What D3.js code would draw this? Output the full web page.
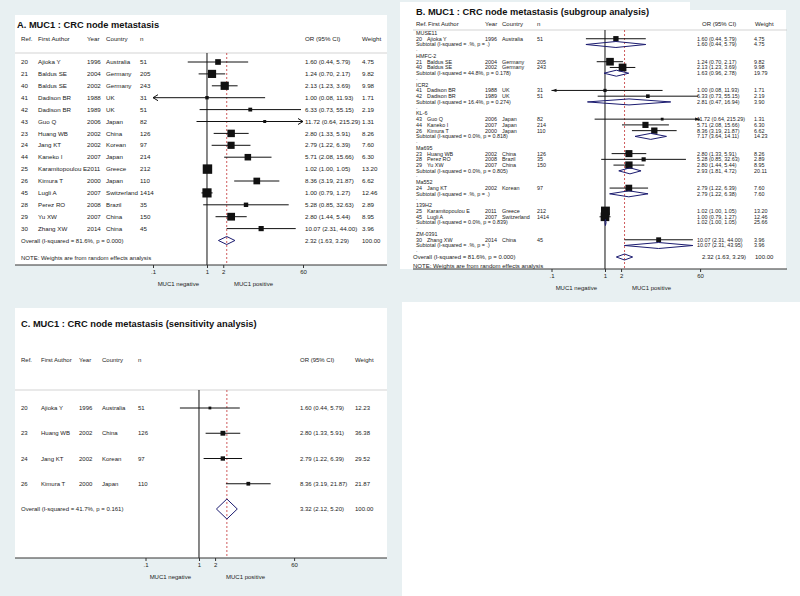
<!DOCTYPE html>
<html>
<head>
<meta charset="utf-8">
<script src="https://cdn.jsdelivr.net/npm/d3@7"></script>
<style>
  body { margin: 0; background: #fff; }
  svg { display: block; font-family: "Liberation Sans", Arial, sans-serif; }
</style>
</head>
<body>
<svg id="chart" width="800" height="596"></svg>
<script>
// study table (panel A order)
const refs = [20, 21, 40, 41, 42, 43, 23, 24, 44, 25, 26, 45, 28, 29, 30];
const authors = ["Ajioka Y", "Baldus SE", "Baldus SE", "Dadison BR", "Dadison BR", "Guo Q", "Huang WB", "Jang KT",
  "Kaneko I", "Karamitopoulou E", "Kimura T", "Lugli A", "Perez RO", "Yu XW", "Zhang XW"];
const years = [1996, 2004, 2002, 1988, 1989, 2006, 2002, 2002, 2007, 2011, 2000, 2007, 2008, 2007, 2014];
const countries = ["Australia", "Germany", "Germany", "UK", "UK", "Japan", "China", "Korean", "Japan", "Greece",
  "Japan", "Switzerland", "Brazil", "China", "China"];
const sizes = [51, 205, 243, 31, 51, 82, 126, 97, 214, 212, 110, 1414, 35, 150, 45];
const ors = [1.60, 1.24, 2.13, 1.00, 6.33, 11.72, 2.80, 2.79, 5.71, 1.02, 8.36, 1.00, 5.28, 2.80, 10.07];
const lows = [0.44, 0.70, 1.23, 0.08, 0.73, 0.64, 1.33, 1.22, 2.08, 1.00, 3.19, 0.79, 0.85, 1.44, 2.31];
const highs = [5.79, 2.17, 3.69, 11.93, 55.15, 215.29, 5.91, 6.39, 15.66, 1.05, 21.87, 1.27, 32.63, 5.44, 44.00];
const weights = [4.75, 9.82, 9.98, 1.71, 2.19, 1.31, 8.26, 7.60, 6.30, 13.20, 6.62, 12.46, 2.89, 8.95, 3.96];
const overallAll = [2.32, 1.63, 3.29];
const hetAll = "81.6%, p = 0.000";

// subgroups (panel B)
const groupNames = ["MUSE11", "HMFC-2", "ICR2", "KL-6", "Ma695", "Ma552", "139H2", "ZM-0391"];
const groupRefs = [[20], [21, 40], [41, 42], [43, 44, 26], [23, 28, 29], [24], [25, 45], [30]];
const groupHet = [".%, p = .", "44.8%, p = 0.178", "16.4%, p = 0.274", "0.0%, p = 0.818", "0.0%, p = 0.805",
  ".%, p = .", "0.0%, p = 0.839", ".%, p = ."];
const groupOR = [1.60, 1.63, 2.81, 7.17, 2.93, 2.79, 1.02, 10.07];
const groupLow = [0.44, 0.96, 0.47, 3.64, 1.81, 1.22, 1.00, 2.31];
const groupHigh = [5.79, 2.78, 16.94, 14.11, 4.72, 6.38, 1.05, 43.95];
const groupWeight = [4.75, 19.79, 3.90, 14.23, 20.11, 7.60, 25.66, 3.96];

// sensitivity (panel C)
const sensRefs = [20, 23, 24, 26];
const sensWeights = [12.23, 36.38, 29.52, 21.87];
const overallSens = [3.32, 2.12, 5.20];
const hetSens = "41.7%, p = 0.161";

const tickValues = [0.1, 1, 2, 60];
const tickLabels = [".1", "1", "2", "60"];

const svg = d3.select("#chart");
const fmt = d3.format(".2f");
const ink = "#222";
const navy = "#1c1c70";

// backgrounds
svg.append("rect").attr("width", 800).attr("height", 596).attr("fill", "#e8f0f2");
svg.append("rect").attr("x", 402).attr("y", 302).attr("width", 398).attr("height", 294).attr("fill", "#fff");
svg.append("rect").attr("x", 15).attr("y", 15).attr("width", 372).attr("height", 250).attr("fill", "#fff");
svg.append("rect").attr("x", 400).attr("y", 10).attr("width", 386).attr("height", 259).attr("fill", "#fff");
svg.append("rect").attr("x", 400).attr("y", 2).attr("width", 290).attr("height", 9).attr("fill", "#fff");
svg.append("rect").attr("x", 15).attr("y", 308).attr("width", 372).attr("height", 250).attr("fill", "#fff");

function drawPanel(p) {
  const g = svg.append("g");
  const c = p.cols;
  const txt = (x, y, s, size, anchor) =>
    g.append("text").attr("x", x).attr("y", y).attr("dy", "0.35em")
      .attr("font-size", size).attr("fill", ink)
      .attr("text-anchor", anchor || "start").text(s);

  g.append("text").attr("x", p.titleX).attr("y", p.titleY).attr("dy", "0.35em")
    .attr("font-size", 9.3).attr("font-weight", "bold").attr("fill", "#111").text(p.title);

  [["Ref.", c.ref], ["First Author", c.authorHead], ["Year", c.year], ["Country", c.country],
   ["n", c.n], ["OR (95% CI)", c.orHead], ["Weight", c.wHead]]
    .forEach(d => txt(d[1], p.headerY, d[0], p.headFont));

  g.append("line").attr("x1", p.left).attr("x2", p.right).attr("y1", p.sepY).attr("y2", p.sepY)
    .attr("stroke", "#c8c8c8").attr("stroke-width", 0.8);

  // null line and overall line
  g.append("line").attr("x1", p.x(1)).attr("x2", p.x(1)).attr("y1", p.sepY).attr("y2", p.axisY)
    .attr("stroke", "#111").attr("stroke-width", 1);
  g.append("line").attr("x1", p.x(p.overall[0])).attr("x2", p.x(p.overall[0]))
    .attr("y1", p.sepY).attr("y2", p.axisY)
    .attr("stroke", "#c8474a").attr("stroke-width", 0.9).attr("stroke-dasharray", "2,2");

  const [dMin, dMax] = p.x.domain();
  const diamond = (y, o, l, h, hh) => {
    const pts = [[p.x(l), y], [p.x(o), y - hh], [p.x(h), y], [p.x(o), y + hh]];
    g.append("path").attr("d", "M" + pts.join("L") + "Z")
      .attr("fill", "none").attr("stroke", navy).attr("stroke-width", 1);
  };

  p.rows.forEach(r => {
    const y = p.y(r.pos);
    if (r.type === "study") {
      const i = r.i;
      txt(c.ref, y, refs[i], p.font);
      txt(c.author, y, authors[i], p.font);
      txt(c.year, y, years[i], p.font);
      txt(c.country, y, countries[i], p.font);
      txt(c.n, y, sizes[i], p.font);
      txt(c.or, y, `${fmt(ors[i])} (${fmt(lows[i])}, ${fmt(highs[i])})`, p.font);
      txt(c.w, y, fmt(r.w), p.font);
      const x1 = p.x(Math.max(lows[i], dMin));
      const x2 = p.x(Math.min(highs[i], dMax));
      g.append("line").attr("x1", x1).attr("x2", x2).attr("y1", y).attr("y2", y)
        .attr("stroke", "#111").attr("stroke-width", 1);
      if (lows[i] < dMin) arrow(g, x1, y, -1, p.arrow);
      if (highs[i] > dMax) arrow(g, x2, y, 1, p.arrow);
      const s = p.boxK * Math.sqrt(r.w);
      g.append("rect").attr("x", p.x(ors[i]) - s / 2).attr("y", y - s / 2)
        .attr("width", s).attr("height", s).attr("fill", "#111");
    } else if (r.type === "group") {
      txt(c.ref, y, r.label, p.font);
    } else if (r.type === "blank") {
      txt(c.ref, y - 1, ".", p.font);
    } else if (r.type === "sub") {
      txt(c.ref, y, `Subtotal  (I-squared = ${r.het})`, p.font);
      txt(c.or, y, `${fmt(r.o)} (${fmt(r.l)}, ${fmt(r.h)})`, p.font);
      txt(c.w, y, fmt(r.w), p.font);
      diamond(y, r.o, r.l, r.h, p.diaH);
    } else if (r.type === "overall") {
      txt(p.overallX, y, `Overall  (I-squared = ${p.het})`, p.overallFont);
      txt(c.orOverall, y, `${fmt(p.overall[0])} (${fmt(p.overall[1])}, ${fmt(p.overall[2])})`, p.overallFont);
      txt(c.wOverall, y, "100.00", p.overallFont);
      diamond(y, p.overall[0], p.overall[1], p.overall[2], p.overallDiaH);
    }
  });

  if (p.noteY) txt(p.overallX, p.noteY, "NOTE: Weights are from random effects analysis", p.overallFont);

  // axis
  g.append("line").attr("x1", p.left).attr("x2", p.right).attr("y1", p.axisY).attr("y2", p.axisY)
    .attr("stroke", "#333").attr("stroke-width", 1);
  const axis = d3.axisBottom(p.x).tickValues(tickValues)
    .tickFormat((d, i) => tickLabels[i]).tickSize(3).tickPadding(2);
  const ag = g.append("g").attr("transform", `translate(0,${p.axisY})`).call(axis);
  ag.attr("font-family", null).attr("font-size", 6);
  ag.select(".domain").remove();
  ag.selectAll("line").attr("stroke", "#333");
  ag.selectAll("text").attr("fill", ink);

  txt(p.x(1) - 8, p.labelY, "MUC1 negative", 6, "end");
  txt(p.x(1) + 27, p.labelY, "MUC1 positive", 6, "start");
}

function arrow(g, x, y, dir, style) {
  if (style === "open") {
    g.append("path").attr("d", `M${x - dir * 5},${y - 3}L${x},${y}L${x - dir * 5},${y + 3}`)
      .attr("fill", "none").attr("stroke", "#111").attr("stroke-width", 1);
  } else {
    g.append("path").attr("d", `M${x - dir * 5},${y - 1.6}L${x},${y}L${x - dir * 5},${y + 1.6}Z`)
      .attr("fill", "#111");
  }
}

// panel A
const rowsA = refs.map((r, i) => ({ type: "study", pos: i, i: i, w: weights[i] }));
rowsA.push({ type: "overall", pos: refs.length });
drawPanel({
  title: "A. MUC1 : CRC node metastasis", titleX: 17, titleY: 25,
  x: d3.scaleLog().domain([0.1, 60]).range([153, 303]),
  y: d3.scaleLinear().domain([0, 15]).range([62, 240.5]),
  left: 15, right: 387, axisY: 265, sepY: 53, headerY: 39, labelY: 284, noteY: 258,
  cols: { ref: 21, author: 38, authorHead: 38, year: 87, country: 106, n: 140, or: 305, orHead: 305,
    w: 362, wHead: 362, orOverall: 305, wOverall: 362 },
  font: 6.2, headFont: 6.2, overallFont: 6, overallX: 21,
  boxK: 2.6, diaH: 4, overallDiaH: 4, arrow: "open",
  rows: rowsA, overall: overallAll, het: hetAll
});

// panel B
const rowsB = [];
let pos = 0;
groupNames.forEach((name, gi) => {
  rowsB.push({ type: "group", pos: pos++, label: name });
  groupRefs[gi].forEach(ref => {
    const i = refs.indexOf(ref);
    rowsB.push({ type: "study", pos: pos++, i: i, w: weights[i] });
  });
  rowsB.push({ type: "sub", pos: pos++, het: groupHet[gi], o: groupOR[gi], l: groupLow[gi],
    h: groupHigh[gi], w: groupWeight[gi] });
  rowsB.push({ type: "blank", pos: pos++ });
});
rowsB.push({ type: "overall", pos: pos });
drawPanel({
  title: "B. MUC1 : CRC node metastasis (subgroup analysis)", titleX: 416, titleY: 12,
  x: d3.scaleLog().domain([0.1, 60]).range([551.5, 700.1]),
  y: d3.scaleLinear().domain([0, 39]).range([33, 257]),
  left: 413, right: 787, axisY: 269, sepY: 30, headerY: 24, labelY: 287.5, noteY: 265.6,
  cols: { ref: 416, author: 427, authorHead: 428, year: 485, country: 502, n: 537, or: 697, orHead: 702,
    w: 754, wHead: 755, orOverall: 702, wOverall: 755 },
  font: 5.4, headFont: 6, overallFont: 6, overallX: 413,
  boxK: 2.45, diaH: 3, overallDiaH: 3, arrow: "filled",
  rows: rowsB, overall: overallAll, het: hetAll
});

// panel C
const rowsC = sensRefs.map((ref, k) => ({ type: "study", pos: k, i: refs.indexOf(ref), w: sensWeights[k] }));
rowsC.push({ type: "overall", pos: sensRefs.length });
drawPanel({
  title: "C. MUC1 : CRC node metastasis (sensitivity analysis)", titleX: 21, titleY: 324,
  x: d3.scaleLog().domain([0.1, 60]).range([145.5, 294.1]),
  y: d3.scaleLinear().domain([0, 4]).range([408, 509]),
  left: 15, right: 387, axisY: 558, sepY: 390, headerY: 360, labelY: 577,
  cols: { ref: 21, author: 41, authorHead: 41, year: 79, country: 102, n: 138, or: 300, orHead: 300,
    w: 355, wHead: 355, orOverall: 300, wOverall: 355 },
  font: 6, headFont: 6, overallFont: 6, overallX: 21,
  boxK: 0.8, diaH: 10, overallDiaH: 10, arrow: "open",
  rows: rowsC, overall: overallSens, het: hetSens
});
</script>
</body>
</html>
